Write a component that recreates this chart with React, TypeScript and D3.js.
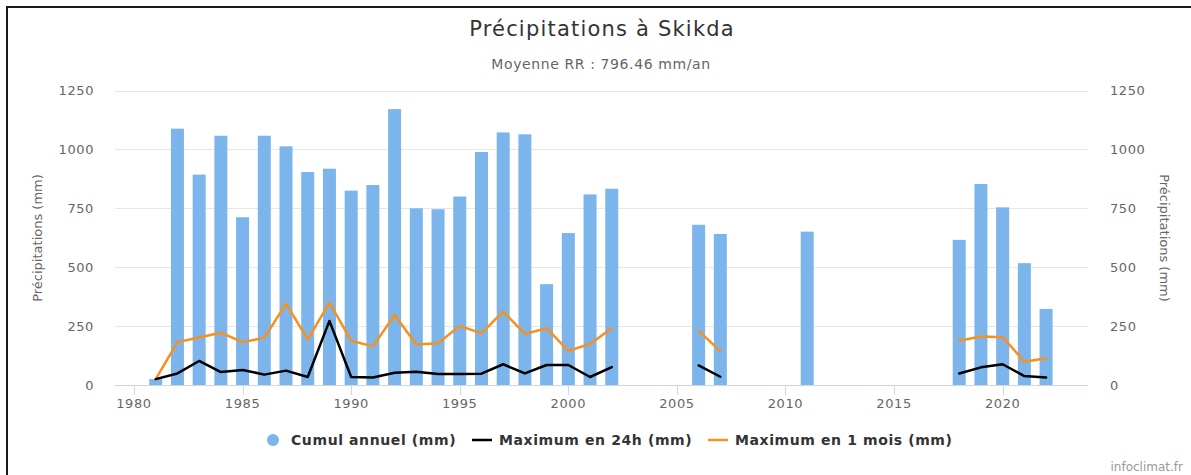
import React from "react";
import * as d3 from "d3";

const years = [1981, 1982, 1983, 1984, 1985, 1986, 1987, 1988, 1989, 1990, 1991, 1992, 1993, 1994, 1995, 1996, 1997, 1998, 1999, 2000, 2001, 2002, 2006, 2007, 2011, 2018, 2019, 2020, 2021, 2022];
const cumulAnnuel = [25, 1088, 893, 1058, 712, 1058, 1013, 904, 918, 825, 849, 1171, 750, 746, 800, 989, 1072, 1064, 428, 645, 809, 833, 680, 641, 651, 616, 853, 754, 517, 323];
const max24h: (number | null)[] = [25, 49, 102, 55, 64, 44, 61, 34, 272, 34, 32, 52, 56, 47, 47, 48, 88, 49, 85, 85, 34, 76, 83, 35, null, 49, 75, 88, 38, 32];
const max1mois: (number | null)[] = [25, 182, 202, 222, 182, 200, 345, 194, 350, 188, 164, 297, 172, 177, 251, 219, 312, 217, 241, 145, 174, 241, 230, 144, null, 188, 206, 203, 99, 114];
const xTicks = [1980, 1985, 1990, 1995, 2000, 2005, 2010, 2015, 2020];
const yTicks = [0, 250, 500, 750, 1000, 1250];

const TITLE = "Précipitations à Skikda";
const SUBTITLE = "Moyenne RR : 796.46 mm/an";
const AXIS_TITLE = "Précipitations (mm)";
const legendItems = [
  { label: "Cumul annuel (mm)", kind: "dot", color: "#7cb5ec" },
  { label: "Maximum en 24h (mm)", kind: "line", color: "#000000" },
  { label: "Maximum en 1 mois (mm)", kind: "line", color: "#f7901e" },
];

const W = 1191;
const H = 475;
const left = 115;
const right = 1088;
const top = 90.5;
const bottom = 385;
const FONT = "'DejaVu Sans', sans-serif";

export default function App() {
  const x = d3.scaleLinear().domain([1979.125, 2023.93]).range([left, right]);
  const y = d3.scaleLinear().domain([0, 1250]).range([bottom, top]);

  type P = { year: number; v: number | null };
  const withGaps = (vals: (number | null)[]): P[] => {
    const out: P[] = [];
    years.forEach((yr, i) => {
      if (i > 0 && yr - years[i - 1] > 1) out.push({ year: yr - 0.5, v: null });
      out.push({ year: yr, v: vals[i] });
    });
    return out;
  };
  const line = d3
    .line<P>()
    .defined((d) => d.v !== null)
    .x((d) => x(d.year))
    .y((d) => y(d.v as number));

  const barW = 13;
  const legendX = [291, 499, 735];
  const legendY = 440;

  return (
    <svg
      width={W}
      height={H}
      style={{ position: "absolute", left: 0, top: 0, background: "#fff" }}
      fontFamily={FONT}
    >
      <rect x={0} y={0} width={W} height={H} fill="#fff" />
      <rect x={7} y={7} width={W + 50} height={H + 50} fill="none" stroke="#1a1a1a" strokeWidth={2} />

      <text x={602} y={36} textAnchor="middle" fontSize={21} fill="#333" letterSpacing={1.2}>
        {TITLE}
      </text>
      <text x={601} y={69} textAnchor="middle" fontSize={14} fill="#666" letterSpacing={0.6}>
        {SUBTITLE}
      </text>

      {yTicks.map((t) => (
        <g key={t}>
          {t > 0 && <line x1={left} x2={right} y1={Math.round(y(t)) + 0.5} y2={Math.round(y(t)) + 0.5} stroke="#e6e6e6" />}
          <text x={94} y={y(t)} dy="0.35em" textAnchor="end" fontSize={13} fill="#666" letterSpacing={0.6}>
            {t}
          </text>
          <text x={1110} y={y(t)} dy="0.35em" textAnchor="start" fontSize={13} fill="#666" letterSpacing={0.6}>
            {t}
          </text>
        </g>
      ))}

      <text
        transform={`translate(37,238) rotate(-90)`}
        textAnchor="middle"
        dy="0.35em"
        fontSize={13}
        fill="#666"
      >
        {AXIS_TITLE}
      </text>
      <text
        transform={`translate(1165,238) rotate(90)`}
        textAnchor="middle"
        dy="0.35em"
        fontSize={13}
        fill="#666"
      >
        {AXIS_TITLE}
      </text>

      {years.map((yr, i) => (
        <rect
          key={yr}
          x={x(yr) - barW / 2}
          y={y(cumulAnnuel[i])}
          width={barW}
          height={bottom - y(cumulAnnuel[i])}
          fill="#7cb5ec"
        />
      ))}

      <line x1={left} x2={right} y1={bottom + 0.5} y2={bottom + 0.5} stroke="#ccd6eb" />
      {xTicks.map((t) => (
        <g key={t}>
          <line x1={Math.round(x(t)) + 0.5} x2={Math.round(x(t)) + 0.5} y1={bottom} y2={bottom + 10} stroke="#ccd6eb" />
          <text x={x(t)} y={408} textAnchor="middle" fontSize={13} fill="#666" letterSpacing={0.6}>
            {t}
          </text>
        </g>
      ))}

      <path d={line(withGaps(max1mois)) || ""} fill="none" stroke="#f7901e" strokeWidth={2.5} strokeLinejoin="round" strokeLinecap="round" />
      <path d={line(withGaps(max24h)) || ""} fill="none" stroke="#000" strokeWidth={2.5} strokeLinejoin="round" strokeLinecap="round" />

      {legendItems.map((it, i) => (
        <g key={it.label}>
          {it.kind === "dot" ? (
            <circle cx={legendX[i] - 18} cy={legendY} r={6} fill={it.color} />
          ) : (
            <line x1={legendX[i] - 27} x2={legendX[i] - 7} y1={legendY} y2={legendY} stroke={it.color} strokeWidth={2.5} />
          )}
          <text x={legendX[i]} y={legendY} dy="0.35em" fontSize={14} fontWeight="bold" fill="#333" letterSpacing={0.6}>
            {it.label}
          </text>
        </g>
      ))}

      <text x={1183} y={471} textAnchor="end" fontSize={12} fill="#999">
        infoclimat.fr
      </text>
    </svg>
  );
}
